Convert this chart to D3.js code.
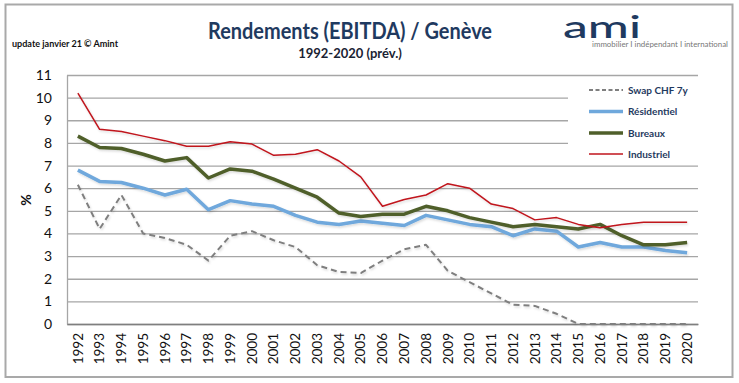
<!DOCTYPE html>
<html><head><meta charset="utf-8">
<script src="https://cdn.jsdelivr.net/npm/d3@7"></script>
<style>body{margin:0;background:#fff}svg{display:block}text{font-family:Lato,"Open Sans",sans-serif}</style>
</head><body><svg id="c" width="739" height="383"></svg>
<script>
const years = d3.range(1992, 2021).map(String);
const swap = [6.15,4.2,5.7,4.0,3.8,3.5,2.8,3.9,4.1,3.7,3.4,2.6,2.3,2.25,2.8,3.3,3.5,2.35,1.85,1.35,0.85,0.8,0.45,0,0,0,0,0,0];
const residentiel = [6.8,6.3,6.25,6.0,5.7,5.95,5.05,5.45,5.3,5.2,4.8,4.5,4.4,4.55,4.45,4.35,4.8,4.6,4.4,4.3,3.9,4.2,4.1,3.4,3.6,3.4,3.4,3.25,3.15];
const bureaux = [8.3,7.8,7.75,7.5,7.2,7.35,6.45,6.85,6.75,6.4,6.0,5.6,4.9,4.75,4.85,4.85,5.2,5.0,4.7,4.5,4.3,4.4,4.3,4.2,4.4,3.9,3.5,3.5,3.6];
const industriel = [10.2,8.6,8.5,8.3,8.1,7.85,7.85,8.05,7.95,7.45,7.5,7.7,7.2,6.5,5.2,5.5,5.7,6.2,6.0,5.3,5.1,4.6,4.7,4.4,4.25,4.4,4.5,4.5,4.5];
const yTicks = d3.range(0, 12);
const seriesNames = ["Swap CHF 7y","Résidentiel","Bureaux","Industriel"];

const series = [
  {name: seriesNames[0], values: swap, color: "#7f7f7f", width: 2, dash: "6,4"},
  {name: seriesNames[1], values: residentiel, color: "#6fa8dc", width: 3.5, dash: null},
  {name: seriesNames[2], values: bureaux, color: "#4f5f2a", width: 3.5, dash: null},
  {name: seriesNames[3], values: industriel, color: "#c0141c", width: 1.5, dash: null}
];

const svg = d3.select("#c");
svg.append("rect").attr("x",5.5).attr("y",4.5).attr("width",727).attr("height",372.5)
  .attr("fill","none").attr("stroke","#a9a9a9").attr("stroke-width",2);

const x = d3.scaleBand().domain(years).range([67, 698]).padding(0);
const y = d3.scaleLinear().domain([0, 11]).range([324, 75]);
const navy = "#1f3a60";

svg.append("g").attr("transform","translate(67,0)")
  .call(d3.axisLeft(y).tickValues(yTicks).tickSize(-(698-67)).tickFormat(""))
  .call(g => g.select(".domain").remove())
  .call(g => g.selectAll("line").attr("stroke","#a6a6a6").attr("stroke-width",1.3));

svg.append("g").attr("transform","translate(67,0)")
  .call(d3.axisLeft(y).tickValues(yTicks).tickSize(0).tickPadding(15).tickFormat(d3.format("d")))
  .call(g => g.select(".domain").attr("stroke","#a6a6a6").attr("stroke-width",1.3))
  .call(g => g.selectAll("text").attr("font-size",14).attr("fill","#111").attr("font-family","'Open Sans',sans-serif"));

svg.append("g").attr("transform","translate(0,324)")
  .call(d3.axisBottom(x).tickSize(0).tickPadding(0))
  .call(g => g.select(".domain").attr("stroke","#7f7f7f").attr("stroke-width",1.5))
  .call(g => g.selectAll("text").attr("font-size",13.5).attr("fill","#111")
     .attr("font-family","'Open Sans',sans-serif")
     .attr("transform","rotate(-90)").attr("text-anchor","end")
     .attr("x",-9).attr("y",0).attr("dy","0.35em"));

svg.append("text").attr("transform","translate(31,200) rotate(-90)")
  .attr("text-anchor","middle").attr("font-size",14).attr("font-weight","bold").attr("fill","#111").text("%");

const defs = svg.append("defs");
const f = defs.append("filter").attr("id","sh").attr("x","-5%").attr("y","-5%").attr("width","110%").attr("height","120%");
f.append("feDropShadow").attr("dx",1).attr("dy",1.5).attr("stdDeviation",1).attr("flood-color","#000").attr("flood-opacity",0.15);

const line = d3.line().x((d,i) => x(years[i]) + x.bandwidth()/2).y(d => y(d));
series.forEach(s => {
  svg.append("path").datum(s.values).attr("d", line)
    .attr("fill","none").attr("stroke", s.color).attr("stroke-width", s.width)
    .attr("stroke-dasharray", s.dash).attr("stroke-linejoin","round").attr("filter","url(#sh)");
});

svg.append("rect").attr("x",568).attr("y",85).attr("width",132).attr("height",79).attr("fill","#fff");
const lg = svg.append("g");
const ly = [90, 111.5, 133, 154];
series.forEach((s,i) => {
  lg.append("line").attr("x1",589).attr("x2",623).attr("y1",ly[i]).attr("y2",ly[i])
    .attr("stroke",s.color).attr("stroke-width", i===0?2:(i===3?1.5:3.5)).attr("stroke-dasharray", s.dash ? "4,2.5" : null);
  lg.append("text").attr("x",628).attr("y",ly[i]).attr("dy","0.35em").attr("font-size",10)
    .attr("font-weight","bold").attr("fill",navy).text(s.name);
});

svg.append("text").attr("x",350).attr("y",39).attr("text-anchor","middle")
  .attr("font-size",22).attr("font-weight","bold").attr("fill",navy)
  .attr("textLength",284).attr("lengthAdjust","spacingAndGlyphs")
  .text("Rendements (EBITDA) / Genève");
svg.append("text").attr("x",350).attr("y",58).attr("text-anchor","middle")
  .attr("font-size",13).attr("font-weight","bold").attr("fill","#1a2333")
  .text("1992-2020 (prév.)");
svg.append("text").attr("x",12).attr("y",47)
  .attr("font-size",9).attr("font-weight","bold").attr("fill","#111")
  .attr("textLength",106).attr("lengthAdjust","spacingAndGlyphs")
  .text("update janvier 21 © Amint");

svg.append("text").attr("x",563).attr("y",38).attr("font-size",30).attr("font-weight",500)
  .attr("fill",navy).attr("textLength",78).attr("lengthAdjust","spacingAndGlyphs").text("ami");
svg.append("text").attr("x",592).attr("y",47).attr("font-size",7).attr("fill","#777")
  .attr("textLength",136).attr("lengthAdjust","spacingAndGlyphs")
  .text("immobilier I indépendant I international");
</script></body></html>
